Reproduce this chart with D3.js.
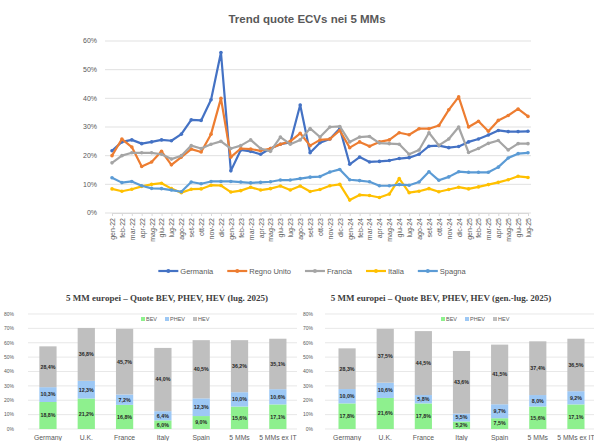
<!DOCTYPE html>
<html>
<head>
<meta charset="utf-8">
<script src="https://cdn.jsdelivr.net/npm/d3@7"></script>
<style>
  body { margin: 0; background: #fff; }
  svg { display: block; font-family: "Liberation Sans", Arial, sans-serif; }
</style>
</head>
<body>
<div id="chart"></div>
<script>
// months on the x axis (gen-22 .. lug-25)
const months = [
  'gen-22','feb-22','mar-22','apr-22','mag-22','giu-22','lug-22','ago-22','set-22','ott-22','nov-22','dic-22',
  'gen-23','feb-23','mar-23','apr-23','mag-23','giu-23','lug-23','ago-23','set-23','ott-23','nov-23','dic-23',
  'gen-24','feb-24','mar-24','apr-24','mag-24','giu-24','lug-24','ago-24','set-24','ott-24','nov-24','dic-24',
  'gen-25','feb-25','mar-25','apr-25','mag-25','giu-25','lug-25'
];

// ECV share (%) per market
const germania = [21.7,24.8,25.5,24.2,24.8,25.5,25.2,27.5,32.5,32.3,39.5,56,
  14.7,22,21.5,20.5,22.5,24,24.6,37.7,21,24.5,25.8,29.5,
  17,19.5,17.8,18,18.3,19,19.3,20.5,23.3,23.5,22.8,23.2,
  24.8,25.8,27.2,28.8,28.4,28.4,28.5];
const regnoUnito = [20,25.8,23,16.2,17.8,21.5,16.8,19.5,22.3,21.3,27.5,40,
  19.5,22.5,22.3,21.7,22.5,24,25,27.8,23.5,25.5,25.8,28.8,
  22.8,24.8,23.3,24.8,25.5,28,27.3,29.4,29.4,30.5,36,40.5,
  30,32,28.5,32.3,34,36.3,33.7];
const francia = [17.5,20,21,21,21,20.5,18.8,20,23.5,22.5,24,25,
  22.5,23.5,25.5,22.5,21.5,26.5,24,25.5,29.5,26.5,30,30.2,
  24.8,26.5,26.7,24.4,24.2,24,20.5,22,28,23.6,25.8,30,
  21.1,22.5,24.3,25.3,22,24.2,24.2];
const italia = [8.4,7.6,8.3,9.3,10,10.4,8.5,7.1,8.3,8.4,9.7,9.6,
  7.3,7.8,9,8,8.5,9.4,8,9.4,7.5,8.2,9.5,10,
  4.5,6.3,6.1,5.4,6.6,12,7.1,7.6,8.5,7.4,8.2,9,
  8.4,9.1,9.9,10.7,11.6,12.8,12.4];
const spagna = [12.3,10.6,11,9.5,8.6,8.5,8,7.4,10.8,10.2,11,11,
  11,10.8,10.5,10.7,10.9,11.5,11.5,12,12.5,12.7,14.3,15.2,
  11.6,11.3,10.9,9.5,9.5,9.9,9.7,10.8,14.4,11.4,12.6,14.4,
  14.2,14.2,14.2,16,19.2,20.7,21];

const seriesNames = ['Germania','Regno Unito','Francia','Italia','Spagna'];
const seriesColors = ['#4472C4','#ED7D31','#A5A5A5','#FFC000','#5B9BD5'];
const lineTicks = [0,10,20,30,40,50,60];

// bar charts
const countries = ['Germany','U.K.','France','Italy','Spain','5 MMs','5 MMs ex IT'];
const barKeys = ['BEV','PHEV','HEV'];
const barColors = ['#8EF08E','#9DC8F5','#BFBFBF'];
const barTicks = [0,10,20,30,40,50,60,70,80];
// lug. 2025
const bevJul  = [18.8,21.2,16.8,6.0,9.0,15.6,17.1];
const phevJul = [10.3,12.3,7.2,6.4,12.3,10.0,10.6];
const hevJul  = [28.4,36.8,45.7,44.0,40.5,36.2,35.1];
// gen.-lug. 2025
const bevYtd  = [17.8,21.6,17.8,5.2,7.5,15.6,17.1];
const phevYtd = [10.0,10.6,5.8,5.5,9.7,8.0,9.2];
const hevYtd  = [28.3,37.5,44.5,43.6,41.5,37.4,36.5];

const W = 594, H = 441;
const svg = d3.select('#chart').append('svg').attr('width', W).attr('height', H);

// ---------- line chart ----------
svg.append('text')
  .attr('x', 307).attr('y', 23)
  .attr('text-anchor', 'middle')
  .attr('font-size', 11.5).attr('font-weight', 'bold').attr('fill', '#595959')
  .text('Trend quote ECVs nei 5 MMs');

const x = d3.scalePoint().domain(months).range([112, 528]);
const y = d3.scaleLinear().domain([0, 60]).range([213, 41]);

svg.append('g').selectAll('line')
  .data(lineTicks).join('line')
  .attr('x1', 105).attr('x2', 531)
  .attr('y1', d => y(d)).attr('y2', d => y(d))
  .attr('stroke', '#D9D9D9').attr('stroke-width', 0.8);

svg.append('g').selectAll('text')
  .data(lineTicks).join('text')
  .attr('x', 97).attr('y', d => y(d)).attr('dy', '0.35em')
  .attr('text-anchor', 'end').attr('font-size', 7).attr('fill', '#595959')
  .text(d => d + '%');

const xAxis = svg.append('g')
  .attr('transform', `translate(0,${y(0)})`)
  .call(d3.axisBottom(x).tickSize(3).tickSizeOuter(0));
xAxis.select('.domain').attr('stroke', '#D9D9D9');
xAxis.selectAll('.tick line').attr('stroke', '#D9D9D9');
xAxis.selectAll('.tick text')
  .attr('font-size', 7).attr('fill', '#595959')
  .attr('font-family', '"Liberation Sans", Arial, sans-serif')
  .attr('text-anchor', 'end')
  .attr('transform', 'rotate(-90)')
  .attr('x', -5).attr('y', 0).attr('dy', '0.35em');

const allSeries = [germania, regnoUnito, francia, italia, spagna];
const line = d3.line().x((d, i) => x(months[i])).y(d => y(d));

allSeries.forEach((vals, k) => {
  const g = svg.append('g');
  g.append('path')
    .datum(vals)
    .attr('d', line)
    .attr('fill', 'none')
    .attr('stroke', seriesColors[k])
    .attr('stroke-width', 2.2)
    .attr('stroke-linejoin', 'round');
  g.selectAll('circle')
    .data(vals).join('circle')
    .attr('cx', (d, i) => x(months[i]))
    .attr('cy', d => y(d))
    .attr('r', 1.8)
    .attr('fill', seriesColors[k]);
});

// legend
const legend = svg.append('g');
let lx = 0;
seriesNames.forEach((name, k) => {
  const it = legend.append('g').attr('transform', `translate(${lx},0)`);
  it.append('line').attr('x1', 0).attr('x2', 20)
    .attr('stroke', seriesColors[k]).attr('stroke-width', 2.2);
  it.append('circle').attr('cx', 10).attr('r', 2).attr('fill', seriesColors[k]);
  const t = it.append('text').attr('x', 22).attr('dy', '0.35em')
    .attr('font-size', 7.5).attr('fill', '#595959').text(name);
  lx += 22 + t.node().getComputedTextLength() + 14;
});
legend.attr('transform', `translate(${312 - (lx - 14) / 2},271)`);

// ---------- bar charts ----------
function fmt(v) {
  return v.toFixed(1).replace('.', ',') + '%';
}

function barChart(opt) {
  const g = svg.append('g');
  const clipId = 'clip' + opt.id;
  svg.append('clipPath').attr('id', clipId)
    .append('rect').attr('x', opt.clip[0]).attr('y', 280)
    .attr('width', opt.clip[1] - opt.clip[0]).attr('height', 161);
  g.attr('clip-path', `url(#${clipId})`);

  const bx = d3.scaleBand().domain(countries).range(opt.range)
    .paddingInner(0.55).paddingOuter(0.275);
  const by = d3.scaleLinear().domain([0, 80]).range([429, 314]);

  g.append('text')
    .attr('x', opt.titleX).attr('y', 301)
    .attr('text-anchor', 'middle')
    .attr('font-family', '"Liberation Serif", "Times New Roman", serif')
    .attr('font-size', 9).attr('font-weight', 'bold').attr('fill', '#404040')
    .text(opt.title);

  g.selectAll('line.grid')
    .data(barTicks).join('line')
    .attr('class', 'grid')
    .attr('x1', opt.grid[0]).attr('x2', opt.grid[1])
    .attr('y1', d => by(d)).attr('y2', d => by(d))
    .attr('stroke', '#D9D9D9').attr('stroke-width', 0.6);

  g.selectAll('text.ytick')
    .data(barTicks).join('text')
    .attr('class', 'ytick')
    .attr('x', opt.yLabelX).attr('y', d => by(d)).attr('dy', '0.35em')
    .attr('text-anchor', 'end').attr('font-size', 5).attr('fill', '#595959')
    .text(d => d + '%');

  const rows = countries.map((c, i) => ({
    country: c, BEV: opt.bev[i], PHEV: opt.phev[i], HEV: opt.hev[i]
  }));
  const stacked = d3.stack().keys(barKeys)(rows);

  stacked.forEach((layer, k) => {
    g.append('g').selectAll('rect')
      .data(layer).join('rect')
      .attr('x', d => bx(d.data.country))
      .attr('width', bx.bandwidth())
      .attr('y', d => by(d[1]))
      .attr('height', d => by(d[0]) - by(d[1]))
      .attr('fill', barColors[k]);
    g.append('g').selectAll('text')
      .data(layer).join('text')
      .attr('x', d => bx(d.data.country) + bx.bandwidth() / 2)
      .attr('y', d => by((d[0] + d[1]) / 2))
      .attr('dy', '0.35em')
      .attr('text-anchor', 'middle')
      .attr('font-size', 5.3).attr('font-weight', 'bold').attr('fill', '#262626')
      .text(d => fmt(d[1] - d[0]));
  });

  g.selectAll('text.cat')
    .data(countries).join('text')
    .attr('class', 'cat')
    .attr('x', d => bx(d) + bx.bandwidth() / 2)
    .attr('y', 440)
    .attr('text-anchor', 'middle').attr('font-size', 6.8).attr('fill', '#595959')
    .text(d => d);

  // legend
  const lg = g.append('g').attr('transform', `translate(${opt.legendX},319)`);
  let px = 0;
  barKeys.forEach((k, i) => {
    lg.append('rect').attr('x', px).attr('y', -2).attr('width', 4).attr('height', 4)
      .attr('fill', barColors[i]);
    const t = lg.append('text').attr('x', px + 5).attr('dy', '0.35em')
      .attr('font-size', 5.5).attr('fill', '#595959').text(k);
    px += 5 + t.node().getComputedTextLength() + 8;
  });
}

barChart({
  id: 'a', title: '5 MM europei \u2013 Quote BEV, PHEV, HEV (lug. 2025)',
  titleX: 167, range: [28.8, 297], grid: [28, 297], clip: [0, 299],
  yLabelX: 14, legendX: 141,
  bev: bevJul, phev: phevJul, hev: hevJul
});

barChart({
  id: 'b', title: '5 MM europei \u2013 Quote BEV, PHEV, HEV (gen.-lug. 2025)',
  titleX: 441, range: [328, 595], grid: [325, 594], clip: [300, 594],
  yLabelX: 313, legendX: 441,
  bev: bevYtd, phev: phevYtd, hev: hevYtd
});
</script>
</body>
</html>
